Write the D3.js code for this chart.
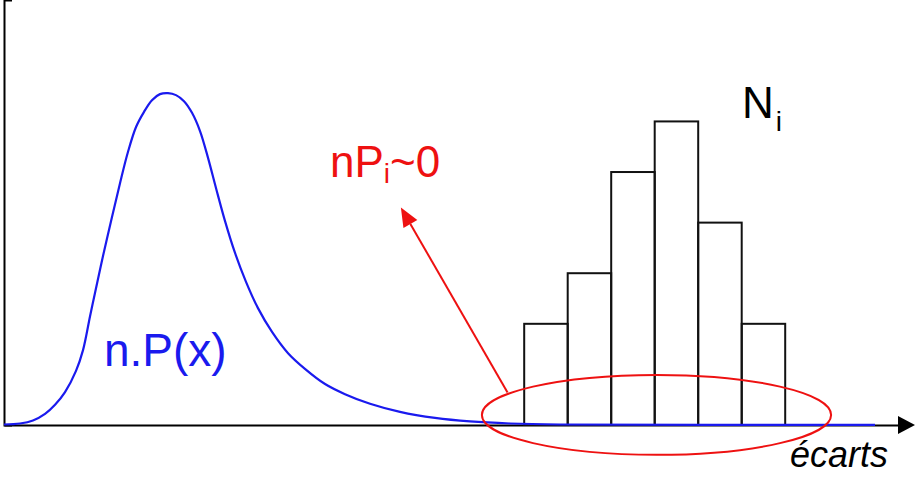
<!DOCTYPE html>
<html>
<head>
<meta charset="utf-8">
<script src="https://cdn.jsdelivr.net/npm/d3@7"></script>
<style>
  html, body { margin: 0; padding: 0; background: #fff; }
  svg { display: block; font-family: "Liberation Sans", Arial, sans-serif; }
</style>
</head>
<body>
<svg id="chart" width="920" height="481"></svg>
<script>
// ---- data ----
// theoretical curve n.P(x): x in abstract units (0..100), y in count units
const curveX = [0, 1.78, 3.22, 4.56, 5.67, 6.78, 8.0, 8.78, 9.56, 10.11, 11.0, 12.0, 12.89, 13.78, 14.67, 15.56, 16.44, 17.33, 18.22, 19.11, 20.0, 20.89, 21.78, 22.67, 23.56, 24.56, 25.67, 26.89, 28.22, 29.78, 31.56, 33.44, 35.67, 37.89, 40.67, 44.0, 47.89, 51.78, 56.22, 61.78, 96.78];
const curveY = [0.01, 0.03, 0.09, 0.22, 0.40, 0.65, 1.07, 1.48, 2.15, 2.61, 3.34, 4.11, 4.78, 5.40, 5.89, 6.19, 6.42, 6.54, 6.56, 6.52, 6.40, 6.17, 5.81, 5.28, 4.68, 4.03, 3.40, 2.83, 2.31, 1.84, 1.42, 1.11, 0.81, 0.61, 0.42, 0.26, 0.14, 0.07, 0.03, 0.01, 0.004];
// observed histogram N_i
const binLabels = ["b1", "b2", "b3", "b4", "b5", "b6"];
const binCounts = [2, 3, 5, 6, 4, 2];
const binRange = [57.8, 86.8];      // x-extent of the histogram in data units
// annotation region (data units)
const zoneCenter = [72.5, 0.2];
const zoneRadius = [19.4, 0.79];
const arrowFrom = [55.95, 0.64];
const arrowTo = [44.1, 4.3];
// texts
const labelCurve = "n.P(x)";
const labelHist = "N";
const labelHistSub = "i";
const labelZone = "nP";
const labelZoneSub = "i";
const labelZoneTail = "~0";
const labelXAxis = "écarts";

// ---- scales ----
const svg = d3.select("#chart");
const x = d3.scaleLinear().domain([0, 100]).range([4, 904]);
const y = d3.scaleLinear().domain([0, 8.4]).range([425, 0]);
const band = d3.scaleBand().domain(binLabels).range(binRange.map(x)).paddingInner(0).paddingOuter(0);

// ---- axes ----
svg.append("g")
  .attr("transform", `translate(${x(0)},0)`)
  .call(d3.axisRight(y).tickValues([]).tickSizeOuter(8))
  .call(g => g.select(".domain").attr("stroke", "#000").attr("stroke-width", 2));

svg.append("g")
  .attr("transform", `translate(0,${y(0)})`)
  .call(d3.axisBottom(x).tickValues([]).tickSizeOuter(0))
  .call(g => g.select(".domain").attr("stroke", "#000").attr("stroke-width", 2));

const tipX = x(100) + 11;
svg.append("path")
  .attr("d", `M${tipX - 17},${y(0) - 9} L${tipX},${y(0)} L${tipX - 17},${y(0) + 9} Z`)
  .attr("fill", "#000");

// ---- histogram ----
svg.append("g").selectAll("rect")
  .data(binLabels)
  .join("rect")
  .attr("x", d => band(d))
  .attr("width", band.bandwidth())
  .attr("y", (d, i) => y(binCounts[i]))
  .attr("height", (d, i) => y(0) - y(binCounts[i]))
  .attr("fill", "none")
  .attr("stroke", "#111")
  .attr("stroke-width", 2);

// ---- curve ----
const pts = curveX.map((v, i) => [v, curveY[i]]);
svg.append("path")
  .datum(pts)
  .attr("d", d3.line().x(d => x(d[0])).y(d => y(d[1])).curve(d3.curveCatmullRom.alpha(0.5)))
  .attr("fill", "none")
  .attr("stroke", "#1a1aee")
  .attr("stroke-width", 2.2);

// ---- annotation ----
const rxPx = x(zoneCenter[0] + zoneRadius[0]) - x(zoneCenter[0]);
const ryPx = y(0) - y(zoneRadius[1]);
svg.append("ellipse")
  .attr("cx", x(zoneCenter[0]))
  .attr("cy", y(zoneCenter[1]))
  .attr("rx", rxPx)
  .attr("ry", ryPx)
  .attr("fill", "none")
  .attr("stroke", "#ee1111")
  .attr("stroke-width", 2);

const ax0 = x(arrowFrom[0]), ay0 = y(arrowFrom[1]);
const ax1 = x(arrowTo[0]), ay1 = y(arrowTo[1]);
const ang = Math.atan2(ay1 - ay0, ax1 - ax0);
const headL = 19, headW = 8;
const bx = ax1 - headL * Math.cos(ang), by = ay1 - headL * Math.sin(ang);
svg.append("line")
  .attr("x1", ax0).attr("y1", ay0)
  .attr("x2", bx).attr("y2", by)
  .attr("stroke", "#ee1111").attr("stroke-width", 2);
svg.append("path")
  .attr("d", `M${ax1},${ay1} L${bx + headW * Math.sin(ang)},${by - headW * Math.cos(ang)} L${bx - headW * Math.sin(ang)},${by + headW * Math.cos(ang)} Z`)
  .attr("fill", "#ee1111");

// ---- labels ----
svg.append("text")
  .attr("x", 104).attr("y", 366)
  .attr("font-size", 46)
  .attr("fill", "#1a1aee")
  .text(labelCurve);

const tz = svg.append("text")
  .attr("x", 330).attr("y", 177)
  .attr("font-size", 44)
  .attr("fill", "#ee1111");
tz.append("tspan").text(labelZone);
tz.append("tspan").attr("font-size", 28).attr("dy", 6).text(labelZoneSub);
tz.append("tspan").attr("dy", -6).text(labelZoneTail);

const th = svg.append("text")
  .attr("x", 742).attr("y", 118)
  .attr("font-size", 44)
  .attr("fill", "#000");
th.append("tspan").text(labelHist);
th.append("tspan").attr("font-size", 28).attr("dx", 2).attr("dy", 13).text(labelHistSub);

svg.append("text")
  .attr("x", 790).attr("y", 467)
  .attr("font-size", 36)
  .attr("font-style", "italic")
  .attr("fill", "#000")
  .text(labelXAxis);
</script>
</body>
</html>
